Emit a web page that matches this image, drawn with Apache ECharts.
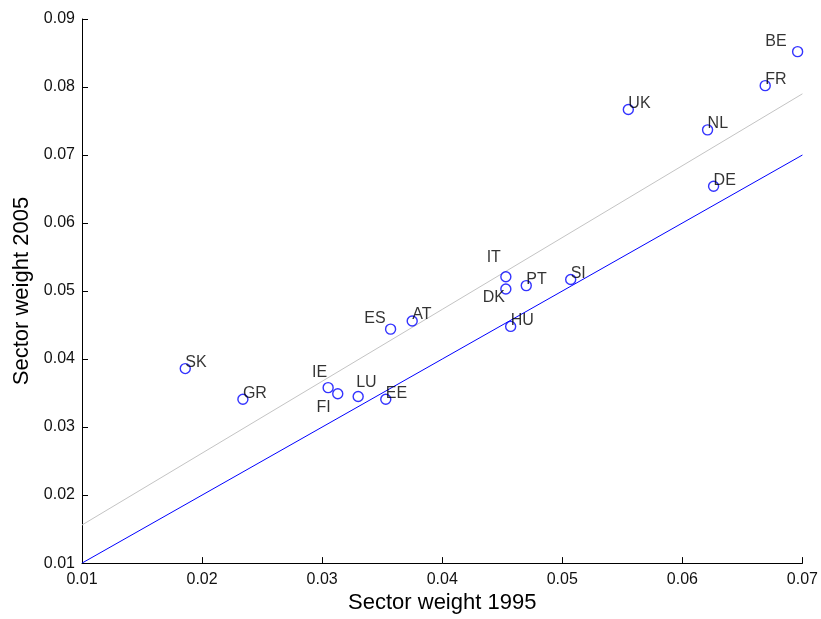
<!DOCTYPE html>
<html>
<head>
<meta charset="utf-8">
<script src="https://cdn.jsdelivr.net/npm/echarts@6/dist/echarts.min.js"></script>
<style>
  html, body { margin: 0; padding: 0; background: #fff; }
  #chart { width: 821px; height: 619px; }
</style>
</head>
<body>
<div id="chart"></div>
<script>
// country codes and sector weights
var countries = ['BE', 'FR', 'UK', 'NL', 'DE', 'SK', 'GR', 'IE', 'FI', 'LU', 'EE', 'ES', 'AT', 'IT', 'DK', 'PT', 'SI', 'HU'];
var weight1995 = [0.0696, 0.0669, 0.0555, 0.0621, 0.0626, 0.0186, 0.0234, 0.0305, 0.0313, 0.0330, 0.0353, 0.0357, 0.0375, 0.0453, 0.0453, 0.0470, 0.0507, 0.0457];
var weight2005 = [0.0852, 0.0802, 0.0767, 0.0737, 0.0654, 0.0386, 0.0341, 0.0358, 0.0349, 0.0345, 0.0341, 0.0444, 0.0456, 0.0521, 0.0503, 0.0508, 0.0517, 0.0448];
// 45 degree line and fitted line
var diagLine = [[0.01, 0.01], [0.07, 0.07]];
var fitLine = [[0.01, 0.0156], [0.07, 0.0790]];
var xTicks = [0.01, 0.07];
var yTicks = [0.01, 0.09];

// label placement tweaks (style only)
var labelTweaks = {
    BE: { align: 'right', offset: [-11, -10] },
    IE: { align: 'right', offset: [-1, -15] },
    FI: { align: 'right', offset: [-7, 14] },
    LU: { align: 'left', offset: [-2, -14] },
    ES: { align: 'right', offset: [-5, -11] },
    IT: { align: 'right', offset: [-5, -19] },
    DK: { align: 'right', offset: [-1, 9] }
};

var points = countries.map(function (c, i) {
    var t = labelTweaks[c] || { align: 'left', offset: [0, -6] };
    return {
        name: c,
        value: [weight1995[i], weight2005[i]],
        label: { align: t.align, offset: t.offset }
    };
});

var fontFam = 'Liberation Sans, Arial, sans-serif';

var option = {
    animation: false,
    backgroundColor: '#fff',
    grid: { left: 82, right: 17, top: 19, bottom: 55, containLabel: false },
    xAxis: {
        type: 'value',
        min: xTicks[0],
        max: xTicks[1],
        interval: 0.01,
        name: 'Sector weight 1995',
        nameLocation: 'middle',
        nameGap: 28,
        nameTextStyle: { fontFamily: fontFam, fontSize: 22, color: '#000' },
        axisLine: { show: true, onZero: false, lineStyle: { color: '#000', width: 1 } },
        axisTick: { show: true, inside: true, length: 6, lineStyle: { color: '#000' } },
        axisLabel: {
            fontFamily: fontFam, fontSize: 16, color: '#111', margin: 8,
            formatter: function (v) { return v.toFixed(2); }
        },
        splitLine: { show: false }
    },
    yAxis: {
        type: 'value',
        min: yTicks[0],
        max: yTicks[1],
        interval: 0.01,
        name: 'Sector weight 2005',
        nameLocation: 'middle',
        nameGap: 49,
        nameTextStyle: { fontFamily: fontFam, fontSize: 22, color: '#000' },
        axisLine: { show: true, onZero: false, lineStyle: { color: '#000', width: 1 } },
        axisTick: { show: true, inside: true, length: 6, lineStyle: { color: '#000' } },
        axisLabel: {
            fontFamily: fontFam, fontSize: 16, color: '#111', margin: 7,
            formatter: function (v) { return v.toFixed(2); }
        },
        splitLine: { show: false }
    },
    series: [{
        type: 'line',
        data: fitLine,
        symbol: 'none',
        lineStyle: { color: '#c4c4c4', width: 1 },
        z: 1
    }, {
        type: 'line',
        data: diagLine,
        symbol: 'none',
        lineStyle: { color: '#0000ff', width: 1 },
        z: 2
    }, {
        type: 'scatter',
        data: points,
        symbol: 'circle',
        symbolSize: 10,
        itemStyle: { color: 'rgba(0,0,0,0)', borderColor: '#0000ff', borderWidth: 1.4 },
        label: {
            show: true,
            position: 'inside',
            verticalAlign: 'middle',
            formatter: '{b}',
            fontFamily: fontFam,
            fontSize: 16,
            color: '#000',
            textBorderWidth: 0
        },
        z: 3
    }]
};

var chart = echarts.init(document.getElementById('chart'));
chart.setOption(option);
</script>
</body>
</html>
